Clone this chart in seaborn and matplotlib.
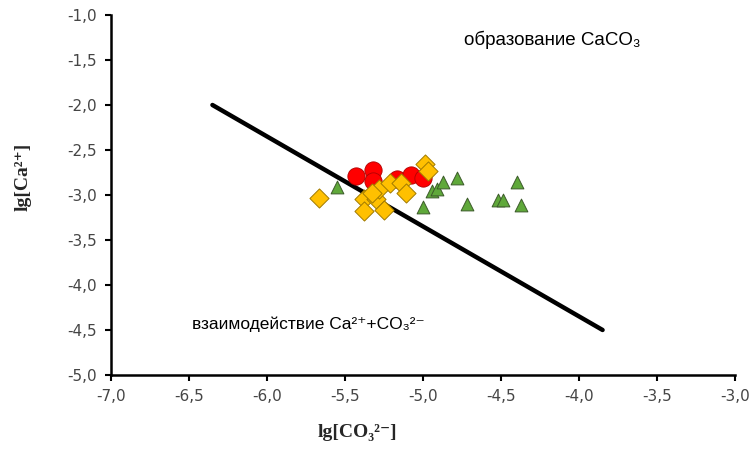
import matplotlib
matplotlib.use("Agg")
import matplotlib.pyplot as plt
import seaborn as sns
import pandas as pd
from matplotlib.ticker import FixedLocator, FuncFormatter

# Data
red_x = [-5.43, -5.32, -5.32, -5.17, -5.08, -5.00]
red_y = [-2.79, -2.72, -2.84, -2.82, -2.78, -2.81]

yellow_x = [-5.67, -5.38, -5.30, -5.38, -5.25, -5.28, -5.21, -5.14, -5.11, -4.99, -4.97, -5.33]
yellow_y = [-3.03, -3.04, -3.05, -3.18, -3.17, -2.93, -2.87, -2.87, -2.98, -2.66, -2.73, -2.98]

green_x = [-5.55, -5.00, -4.94, -4.91, -4.87, -4.78, -4.72, -4.52, -4.49, -4.40, -4.37]
green_y = [-2.91, -3.13, -2.96, -2.93, -2.86, -2.81, -3.10, -3.06, -3.06, -2.86, -3.11]

line_x = [-6.35, -3.85]
line_y = [-2.0, -4.5]

x_ticks = [-7.0, -6.5, -6.0, -5.5, -5.0, -4.5, -4.0, -3.5, -3.0]
y_ticks = [-1.0, -1.5, -2.0, -2.5, -3.0, -3.5, -4.0, -4.5, -5.0]

label_top = "образование CaCO\u2083"
label_bottom = "взаимодействие Ca\u00b2\u207a+CO\u2083\u00b2\u207b"
x_label = "lg[CO\u2083\u00b2\u207b]"
y_label = "lg[Ca\u00b2\u207a]"

sns.set_theme(style="white")
plt.rcParams['font.family'] = ['Liberation Sans', 'DejaVu Sans']

fig = plt.figure(figsize=(7.53, 4.5), dpi=100)
ax = fig.add_axes([0.1474, 0.1667, 0.8290, 0.8000])

line_df = pd.DataFrame({"x": line_x, "y": line_y})
sns.lineplot(data=line_df, x="x", y="y", ax=ax, color="black", linewidth=3.2,
             solid_capstyle="round", zorder=2, sort=False)

g_df = pd.DataFrame({"x": green_x, "y": green_y})
r_df = pd.DataFrame({"x": red_x, "y": red_y})
y_df = pd.DataFrame({"x": yellow_x, "y": yellow_y})

sns.scatterplot(data=g_df, x="x", y="y", ax=ax, marker="^", s=85,
                color="#5FA83A", edgecolor="#3C5A2A", linewidth=0.7, zorder=3)
sns.scatterplot(data=r_df, x="x", y="y", ax=ax, marker="o", s=155,
                color="#FF0000", edgecolor="#B00000", linewidth=0.6, zorder=4)
sns.scatterplot(data=y_df, x="x", y="y", ax=ax, marker="D", s=95,
                color="#FFC000", edgecolor="#A07A00", linewidth=0.7, zorder=5)

ax.set_xlim(-7.0, -3.0)
ax.set_ylim(-5.0, -1.0)
ax.xaxis.set_major_locator(FixedLocator(x_ticks))
ax.yaxis.set_major_locator(FixedLocator(y_ticks))
fmt = FuncFormatter(lambda v, p: f"{v:.1f}".replace(".", ","))
ax.xaxis.set_major_formatter(fmt)
ax.yaxis.set_major_formatter(fmt)

for s in ["top", "right"]:
    ax.spines[s].set_visible(False)
for s in ["left", "bottom"]:
    ax.spines[s].set_color("black")
    ax.spines[s].set_linewidth(1.8)

ax.tick_params(axis="both", which="major", direction="out", length=4, width=1.5,
               color="black", labelcolor="#454545", pad=6)
ax.tick_params(left=True, bottom=True)
for lab in ax.get_xticklabels() + ax.get_yticklabels():
    lab.set_family(['DejaVu Sans'])
    lab.set_fontsize(11)

ax.set_xlabel(x_label, fontsize=14, family=['Liberation Serif', 'DejaVu Serif'],
              fontweight="bold")
ax.set_ylabel(y_label, fontsize=14, family=['Liberation Serif', 'DejaVu Serif'],
              fontweight="bold")
ax.xaxis.set_label_coords(0.394, -0.135)
ax.yaxis.set_label_coords(-0.127, 0.55)

ax.text(-4.17, -1.28, label_top, fontsize=13.5, ha="center", va="center",
        family=['Liberation Sans', 'DejaVu Sans'], color="black")
ax.text(-6.48, -4.44, label_bottom, fontsize=12.5, ha="left", va="center",
        family=['Liberation Sans', 'DejaVu Sans'], color="black")

ax.grid(False)
fig.savefig("out.png", dpi=100, facecolor="white")
